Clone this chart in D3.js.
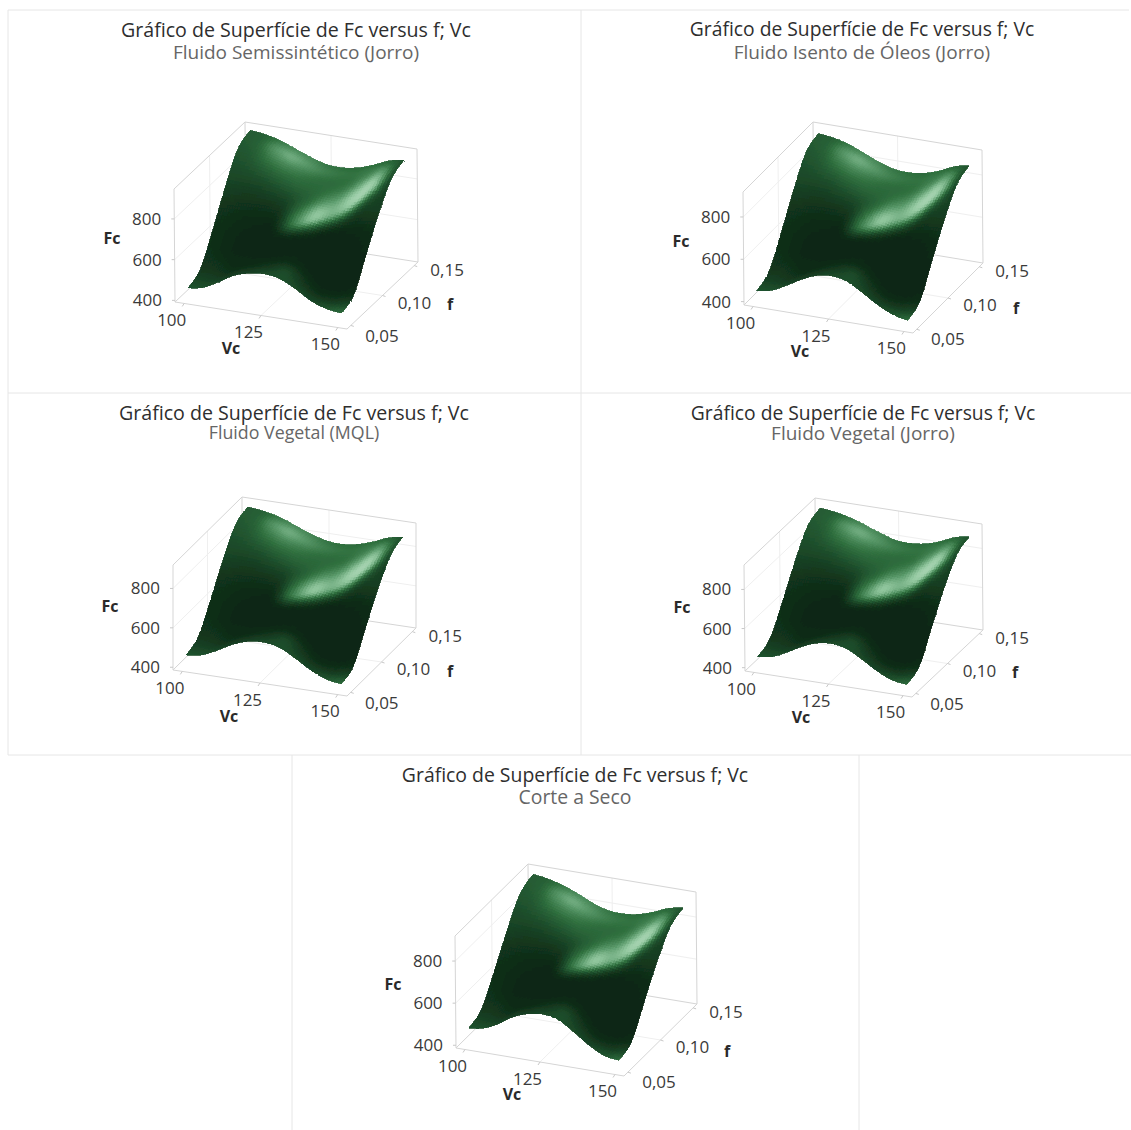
<!DOCTYPE html>
<html>
<head>
<meta charset="utf-8">
<script src="https://cdn.jsdelivr.net/npm/d3@7"></script>
<style>
  body { margin: 0; background: #fff; }
  text { font-family: "Open Sans", "Noto Sans", sans-serif; }
</style>
</head>
<body>
<svg id="chart" width="1131" height="1130"></svg>
<script>
'use strict';

// grid the Fc surface was read on
const vcValues = [100, 105, 110, 115, 120, 125, 130, 135, 140, 145, 150];
const fValues = [0.05, 0.07, 0.09, 0.11, 0.13, 0.15];

const vcTicks = [100, 125, 150];
const fTicks = [0.05, 0.10, 0.15];
const fcTicks = [400, 600, 800];

const mainTitle = 'Gráfico de Superfície de Fc versus f; Vc';

// Fc per f (rows) and Vc (columns)
const fcSemissintetico = [
  [451, 465, 503, 547, 570, 578, 566, 529, 483, 456, 446],
  [487, 500, 533, 571, 591, 597, 585, 552, 511, 488, 480],
  [621, 627, 644, 662, 667, 664, 656, 636, 615, 623, 622],
  [772, 771, 770, 764, 753, 741, 736, 731, 732, 755, 762],
  [898, 889, 873, 850, 824, 805, 801, 809, 828, 856, 869],
  [931, 921, 902, 872, 843, 821, 818, 830, 855, 887, 901]
];
const fcIsentoOleos = [
  [441, 455, 490, 530, 560, 570, 555, 515, 470, 435, 420],
  [475, 487, 518, 553, 578, 586, 571, 535, 495, 465, 453],
  [600, 606, 622, 637, 646, 644, 633, 610, 589, 592, 588],
  [740, 739, 739, 732, 721, 710, 702, 695, 695, 715, 721],
  [857, 849, 835, 811, 784, 764, 759, 764, 782, 810, 824],
  [888, 879, 861, 832, 801, 779, 774, 783, 806, 838, 854]
];
const fcVegetalMql = [
  [451, 463, 498, 540, 567, 574, 560, 518, 470, 435, 422],
  [484, 495, 526, 562, 585, 590, 576, 538, 496, 466, 455],
  [608, 613, 629, 646, 652, 648, 637, 613, 591, 593, 591],
  [748, 746, 745, 737, 727, 714, 705, 698, 698, 718, 725],
  [863, 855, 841, 817, 789, 768, 761, 767, 786, 814, 828],
  [894, 885, 867, 838, 806, 783, 776, 786, 810, 842, 859]
];
const fcVegetalJorro = [
  [446, 458, 492, 533, 562, 571, 556, 514, 467, 433, 422],
  [480, 490, 521, 557, 581, 588, 574, 535, 494, 465, 456],
  [607, 611, 627, 644, 653, 651, 639, 615, 593, 597, 595],
  [750, 747, 747, 743, 734, 721, 713, 705, 705, 726, 732],
  [867, 860, 846, 825, 800, 779, 774, 779, 797, 825, 839],
  [899, 890, 873, 847, 818, 795, 790, 799, 822, 855, 870]
];
const fcCorteSeco = [
  [471, 482, 515, 560, 586, 595, 580, 535, 485, 448, 436],
  [503, 512, 541, 581, 602, 609, 595, 554, 509, 477, 467],
  [622, 625, 639, 659, 664, 662, 651, 625, 601, 601, 598],
  [755, 752, 750, 746, 733, 721, 713, 705, 703, 721, 726],
  [865, 857, 841, 819, 790, 770, 765, 770, 788, 813, 825],
  [895, 885, 865, 838, 805, 783, 779, 788, 811, 840, 854]
];

// how the surface is lit, front row first, same for every panel
const lighting = [
  [.28, .26, .20, .16, .17, .22, .26, .22, .20, .28, .40],
  [.20, .17, .10, .06, .07, .12, .22, .12, .07, .12, .22],
  [.12, .10, .05, .03, .02, .03, .06, .03, .01, .02, .05],
  [.08, .05, .02, .01, .01, .01, .01, .01, .01, .01, .02],
  [.07, .05, .03, .02, .01, .01, .01, .01, .01, .01, .03],
  [.10, .08, .07, .07, .08, .08, .05, .03, .03, .04, .06],
  [.18, .16, .16, .18, .20, .22, .22, .20, .16, .14, .14],
  [.25, .26, .30, .34, .36, .36, .36, .36, .34, .26, .18],
  [.30, .34, .48, .54, .50, .44, .42, .42, .44, .40, .22],
  [.33, .38, .60, .72, .64, .54, .48, .46, .48, .46, .26],
  [.34, .36, .48, .56, .55, .48, .44, .42, .44, .38, .28]
];

// the bright streak: where it sits across the surface and how strong it is
const streakCentre = [.40, .40, .41, .42, .44, .47, .52, .58, .66, .74, .82];
const streakStrength = [0, 0, 0, 0, .05, .46, .74, .58, .60, .52, .02];

const ramp = d3.scaleLinear()
  .domain([0, .25, .45, .65, .85, 1])
  .range(['#0c2412', '#1d4d2b', '#30703f', '#5b9a6b', '#93c8a0', '#bfe0c6'])
  .clamp(true);

const panels = [
  { sub: 'Fluido Semissintético (Jorro)', grid: fcSemissintetico, fc: [392, 947] },
  { sub: 'Fluido Isento de Óleos (Jorro)', grid: fcIsentoOleos, fc: [384, 918] },
  { sub: 'Fluido Vegetal (MQL)', grid: fcVegetalMql, fc: [386, 919] },
  { sub: 'Fluido Vegetal (Jorro)', grid: fcVegetalJorro, fc: [383, 925] },
  { sub: 'Corte a Seco', grid: fcCorteSeco, fc: [387, 919] }
];

// box corners on the page plus the title block of each panel
const layouts = [
  { fl: [175, 302], fr: [347, 329], br: [418, 262], up: [-1, -113], cx: 296, ty: 32, sy: 54, ts: 19.6, ss: 19 },
  { fl: [744, 305], fr: [913, 333], br: [983, 263], up: [-1, -113], cx: 862, ty: 31, sy: 54, ts: 19.3, ss: 19 },
  { fl: [173, 670], fr: [347, 696], br: [416, 628], up: [0, -105], cx: 294, ty: 415, sy: 434, ts: 19.6, ss: 17.8 },
  { fl: [745, 671], fr: [912, 697], br: [983, 630], up: [-1, -106], cx: 863, ty: 415, sy: 435, ts: 19.3, ss: 19 },
  { fl: [456, 1048], fr: [624, 1076], br: [697, 1004], up: [-1, -112], cx: 575, ty: 777, sy: 799, ts: 19.4, ss: 19.4 }
];

// light frames around the panels
const frames = [
  [[8, 393], [8, 10], [1129, 10]],
  [[581, 10], [581, 755]],
  [[8, 393], [1131, 393]],
  [[8, 393], [8, 755], [292, 755]],
  [[292, 1130], [292, 755], [1131, 755]],
  [[859, 755], [859, 1130]]
];

const svg = d3.select('#chart');
const line = d3.line();
const comma = d3.formatLocale({ decimal: ',', thousands: '.', grouping: [3], currency: ['', ''] }).format('.2f');

svg.append('defs').append('filter')
  .attr('id', 'soft')
  .append('feGaussianBlur')
  .attr('stdDeviation', 0.7);

svg.append('g').selectAll('path')
  .data(frames)
  .enter().append('path')
    .attr('d', d => line(d))
    .attr('fill', 'none')
    .attr('stroke', '#e6e6e6');

// Catmull-Rom through the read values, only so the mesh does not look faceted
function spline(values, x) {
  const last = values.length - 1;
  const i = Math.min(Math.floor(x * last), last - 1);
  const t = x * last - i;
  const p0 = values[Math.max(i - 1, 0)];
  const p1 = values[i];
  const p2 = values[i + 1];
  const p3 = values[Math.min(i + 2, last)];
  return 0.5 * (2 * p1 + (p2 - p0) * t + (2 * p0 - 5 * p1 + 4 * p2 - p3) * t * t + (3 * p1 - p0 - 3 * p2 + p3) * t * t * t);
}

function sample(grid, t, s) {
  return spline(grid.map(row => spline(row, t)), s);
}

function shade(t, s) {
  const centre = spline(streakCentre, t);
  const strength = Math.max(spline(streakStrength, t), 0);
  const off = s - centre;
  // sharp on the lower side, soft on the upper side
  const width = off < 0 ? 0.05 : 0.09;
  return sample(lighting, t, s) + strength * Math.exp(-off * off / (2 * width * width));
}

function drawPanel(panel, box) {
  const g = svg.append('g');

  const u = d3.scaleLinear().domain([97, 153]).range([0, 1]);
  const v = d3.scaleLinear().domain([0.044, 0.156]).range([0, 1]);
  const w = d3.scaleLinear().domain(panel.fc).range([0, 1]);

  const a = [box.fr[0] - box.fl[0], box.fr[1] - box.fl[1]];
  const b = [box.br[0] - box.fr[0], box.br[1] - box.fr[1]];

  // page position of a point in the unit cube
  const at = (p, q, r) => [
    box.fl[0] + a[0] * p + b[0] * q + box.up[0] * r,
    box.fl[1] + a[1] * p + b[1] * q + box.up[1] * r
  ];
  const project = (vc, f, fc) => at(u(vc), v(f), w(fc));

  const walls = [
    [at(0, 1, 0), at(1, 1, 0)],
    [at(0, 0, 0), at(0, 1, 0)],
    [at(0, 1, 0), at(0, 1, 1)],
    [at(0, 0, 1), at(0, 1, 1)],
    [at(0, 1, 1), at(1, 1, 1)],
    [at(1, 1, 1), at(1, 1, 0)],
    [at(0, 0, 0), at(0, 0, 1)],
    [at(0, 0, 0), at(1, 0, 0)],
    [at(1, 0, 0), at(1, 1, 0)]
  ];
  const faint = [];
  for (const fc of fcTicks.slice(1)) {
    const r = w(fc);
    faint.push([at(0, 0, r), at(0, 1, r)], [at(0, 1, r), at(1, 1, r)]);
  }
  const midVc = u(vcTicks[1]);
  const midF = v(fTicks[1]);
  faint.push([at(midVc, 1, 0), at(midVc, 1, 1)], [at(0, midF, 0), at(0, midF, 1)]);
  faint.push([at(midVc, 0, 0), at(midVc, 1, 0)], [at(0, midF, 0), at(1, midF, 0)]);

  g.append('g').selectAll('path').data(faint).enter().append('path')
    .attr('d', d => line(d)).attr('stroke', '#efefef').attr('fill', 'none');
  g.append('g').selectAll('path').data(walls).enter().append('path')
    .attr('d', d => line(d)).attr('stroke', '#d5d5d5').attr('fill', 'none');

  // tick marks
  const marks = [];
  for (const vc of vcTicks) {
    const p = project(vc, 0.044, panel.fc[0]);
    marks.push([p, [p[0] - 2, p[1] + 3]]);
  }
  for (const f of fTicks) {
    const p = project(153, f, panel.fc[0]);
    marks.push([p, [p[0] + 3, p[1] + 1]]);
  }
  for (const fc of fcTicks) {
    const p = project(97, 0.044, fc);
    marks.push([p, [p[0] - 3, p[1]]]);
  }
  g.append('g').selectAll('path').data(marks).enter().append('path')
    .attr('d', d => line(d)).attr('stroke', '#c8c8c8').attr('fill', 'none');

  // surface mesh, painted back to front
  const steps = 60;
  const quads = [];
  const vcScale = d3.scaleLinear().domain([0, 1]).range(d3.extent(vcValues));
  const fScale = d3.scaleLinear().domain([0, 1]).range(d3.extent(fValues));
  const node = (i, j) => {
    const t = i / steps;
    const s = j / steps;
    return project(vcScale(t), fScale(s), sample(panel.grid, t, s));
  };
  for (let j = steps - 1; j >= 0; j--) {
    for (let i = 0; i < steps; i++) {
      quads.push({
        points: [node(i, j), node(i + 1, j), node(i + 1, j + 1), node(i, j + 1)],
        light: shade((i + 0.5) / steps, (j + 0.5) / steps)
      });
    }
  }
  g.append('g')
    .attr('filter', 'url(#soft)')
    .selectAll('polygon')
    .data(quads)
    .enter().append('polygon')
      .attr('points', d => d.points.map(p => p[0].toFixed(1) + ',' + p[1].toFixed(1)).join(' '))
      .attr('fill', d => ramp(d.light))
      .attr('stroke', d => ramp(d.light))
      .attr('stroke-width', 0.8)
      .attr('shape-rendering', 'crispEdges');

  // tick labels
  const labels = g.append('g').attr('fill', '#3a3a3a').attr('font-size', 17);
  labels.selectAll('.vc').data(vcTicks).enter().append('text')
    .attr('class', 'vc')
    .attr('text-anchor', 'middle')
    .attr('dominant-baseline', 'middle')
    .attr('x', d => project(d, 0.044, panel.fc[0])[0] - 12.5)
    .attr('y', d => project(d, 0.044, panel.fc[0])[1] + 18)
    .text(d => d);
  labels.selectAll('.f').data(fTicks).enter().append('text')
    .attr('class', 'f')
    .attr('text-anchor', 'middle')
    .attr('dominant-baseline', 'middle')
    .attr('x', d => project(153, d, panel.fc[0])[0] + 31 + 2 * v(d))
    .attr('y', d => project(153, d, panel.fc[0])[1] + 12 - 7 * v(d))
    .text(d => comma(d));
  labels.selectAll('.fc').data(fcTicks).enter().append('text')
    .attr('class', 'fc')
    .attr('text-anchor', 'end')
    .attr('dominant-baseline', 'middle')
    .attr('x', d => project(97, 0.044, d)[0] - 13)
    .attr('y', d => project(97, 0.044, d)[1] + 1.5)
    .text(d => d);

  // axis titles
  const names = [
    { text: 'Fc', x: box.fl[0] - 63, y: box.fl[1] - 62 },
    { text: 'Vc', x: box.fl[0] + 56, y: box.fl[1] + 48 },
    { text: 'f', x: box.fr[0] + 103, y: box.fr[1] - 23 }
  ];
  g.append('g').selectAll('text').data(names).enter().append('text')
    .attr('x', d => d.x)
    .attr('y', d => d.y)
    .attr('text-anchor', 'middle')
    .attr('dominant-baseline', 'middle')
    .attr('font-size', 16)
    .attr('font-weight', 700)
    .attr('fill', '#2a2a2a')
    .text(d => d.text);

  // titles
  g.append('text')
    .attr('x', box.cx)
    .attr('y', box.ty)
    .attr('text-anchor', 'middle')
    .attr('dominant-baseline', 'middle')
    .attr('font-size', box.ts)
    .attr('font-weight', 500)
    .attr('fill', '#2e2e2e')
    .text(mainTitle);
  g.append('text')
    .attr('x', box.cx)
    .attr('y', box.sy)
    .attr('text-anchor', 'middle')
    .attr('dominant-baseline', 'middle')
    .attr('font-size', box.ss)
    .attr('fill', '#666')
    .text(panel.sub);
}

panels.forEach((panel, i) => drawPanel(panel, layouts[i]));
</script>
</body>
</html>
